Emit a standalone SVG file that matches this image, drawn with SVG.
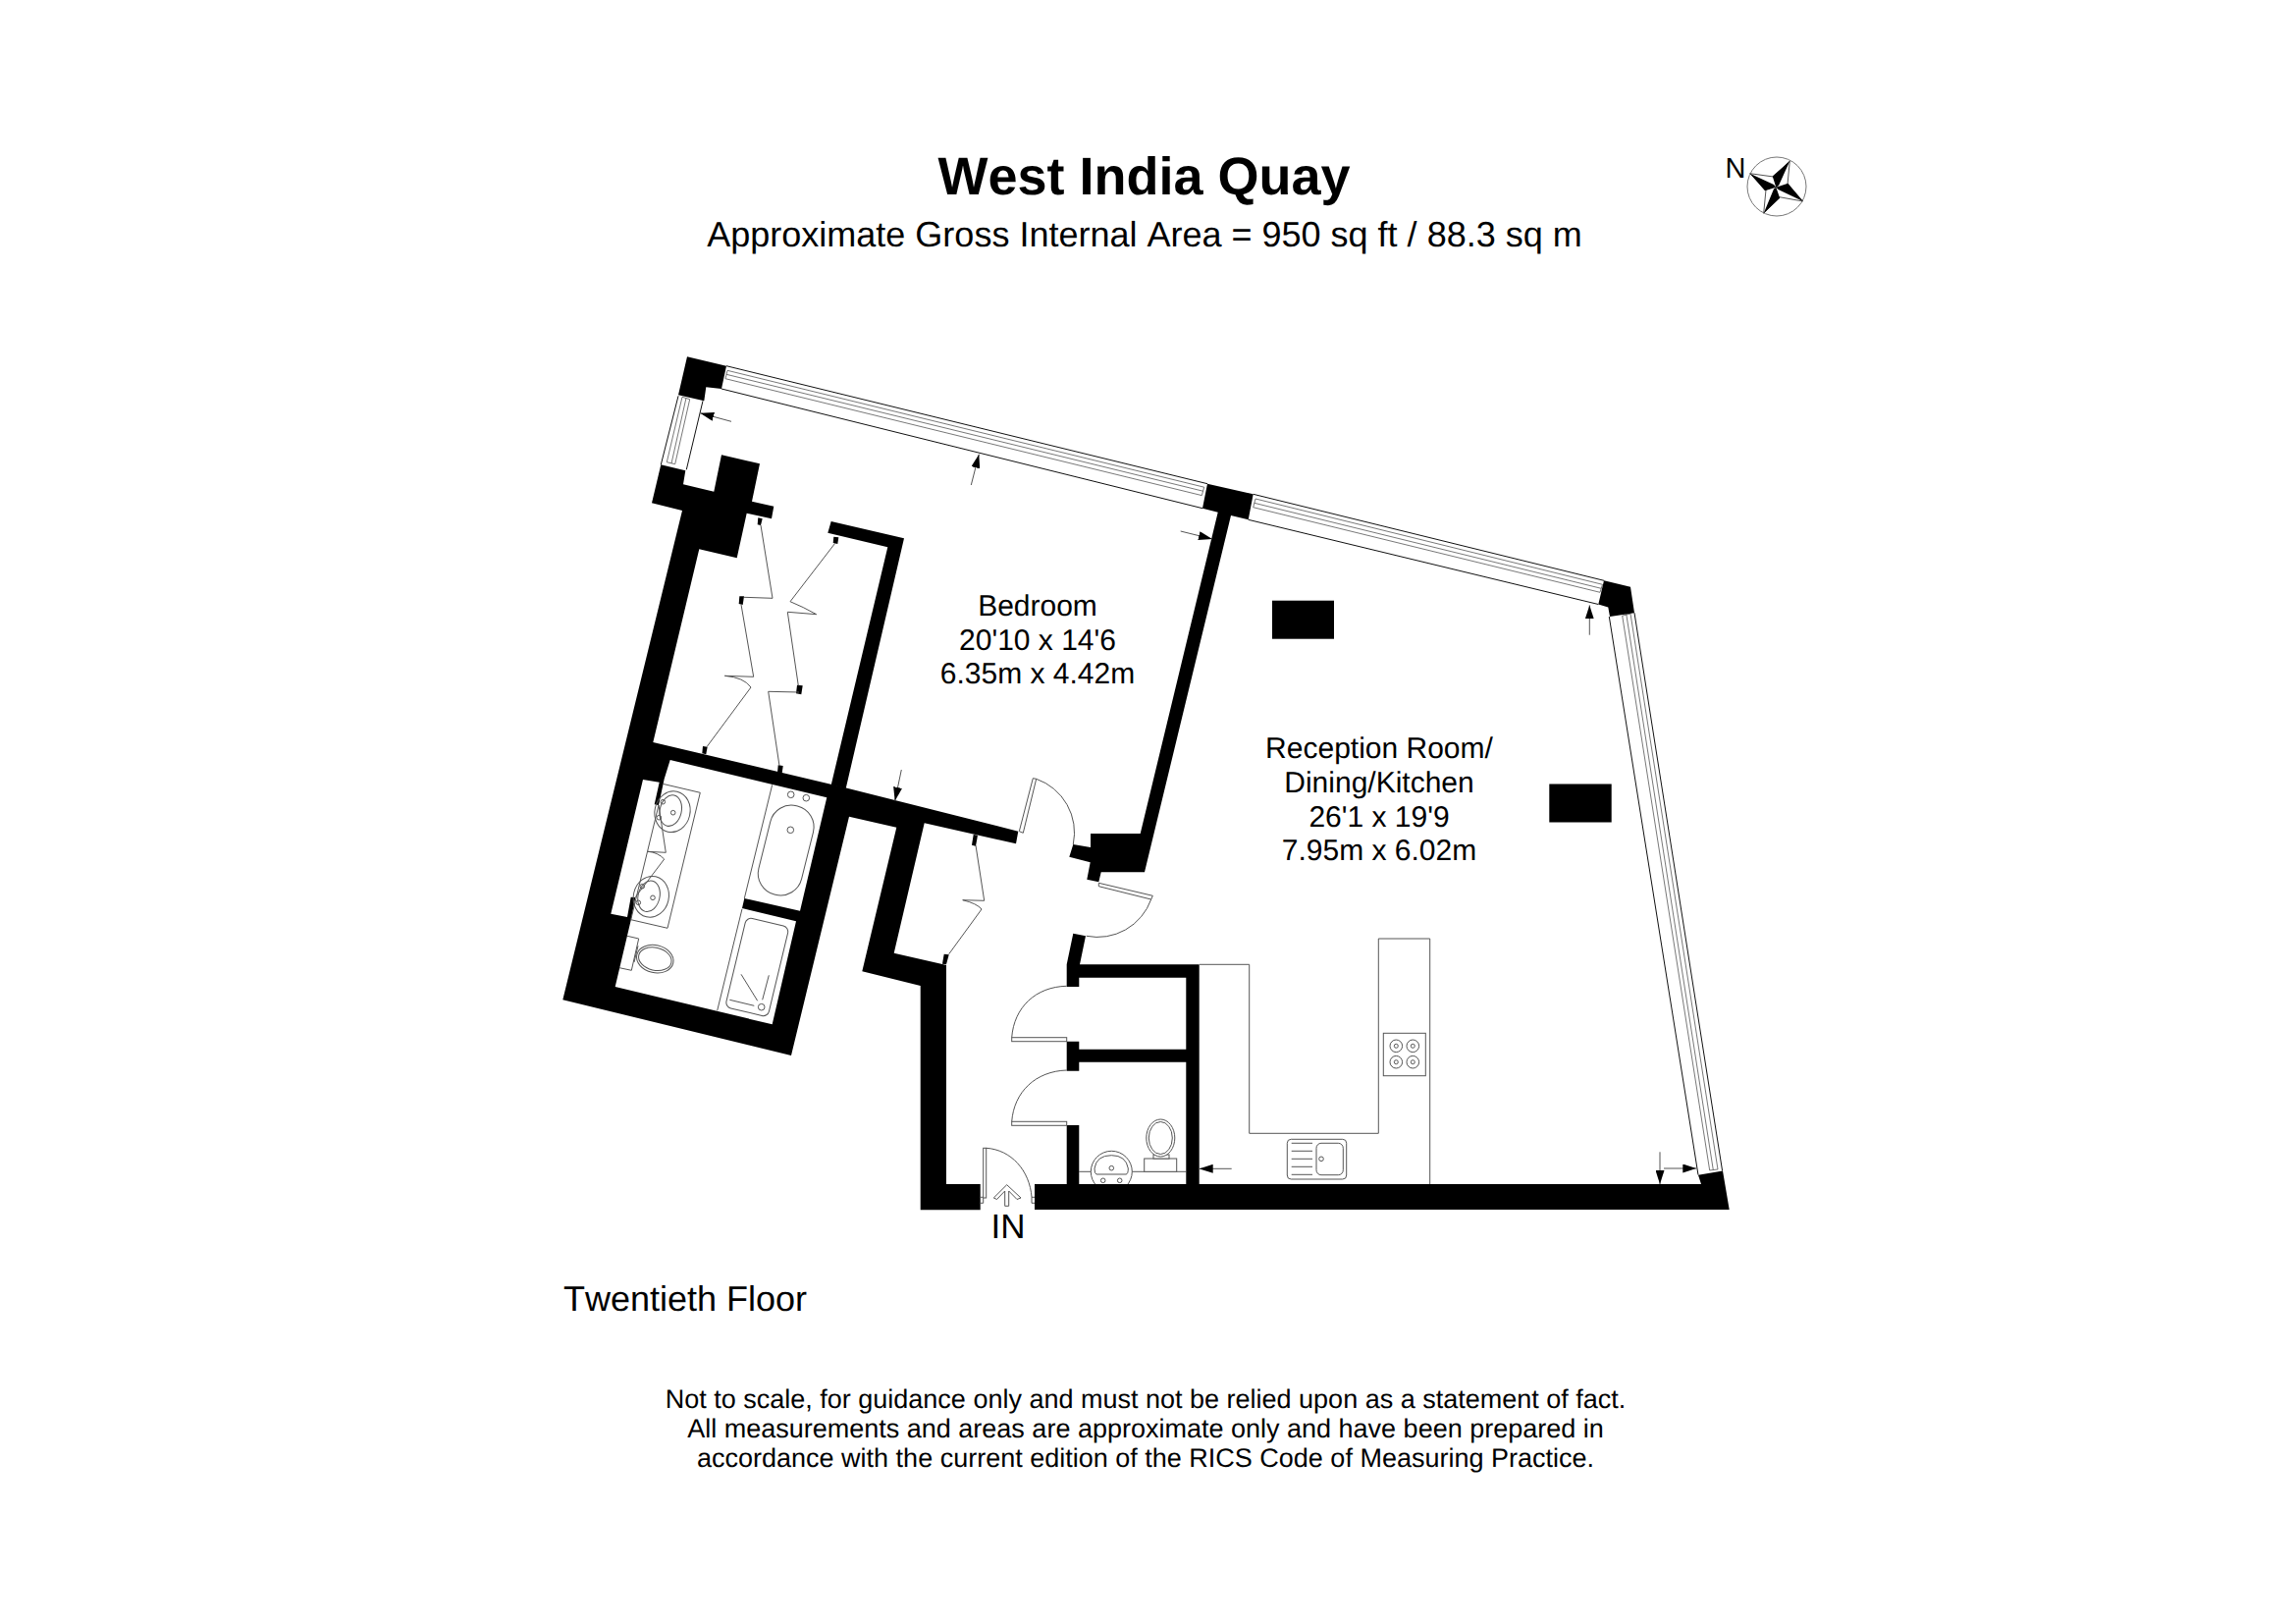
<svg xmlns="http://www.w3.org/2000/svg" width="2339" height="1653" viewBox="0 0 2339 1653">
<defs>
<style>
text{font-family:"Liberation Sans",Arial,sans-serif;fill:#000;font-kerning:none;text-rendering:geometricPrecision}
.room{font-size:30px;text-anchor:middle}
.note{font-size:27px;text-anchor:middle}
.w{fill:#000;stroke:none}
.win{fill:none;stroke:#111;stroke-width:1}
.winl{fill:none;stroke:#555;stroke-width:.8}
.ln{fill:none;stroke:#555;stroke-width:1}
.fix{fill:#fff;stroke:#555;stroke-width:1}
.dim{fill:none;stroke:#555;stroke-width:1;marker-end:url(#ah)}
</style>
<marker id="ah" markerUnits="userSpaceOnUse" markerWidth="14" markerHeight="9" refX="14" refY="4.5" orient="auto"><path d="M0,0L14,4.5L0,9Z" fill="#000"/></marker>
</defs>
<rect width="2339" height="1653" fill="#fff"/>

<g id="title">
<text x="1165.5" y="197.5" font-size="54" font-weight="700" text-anchor="middle">West India Quay</text>
<text x="1166" y="250.5" font-size="36" text-anchor="middle">Approximate Gross Internal Area = 950 sq ft / 88.3 sq m</text>
</g>

<g id="compass">
<text x="1768" y="180.5" font-size="29" text-anchor="middle">N</text>
<circle cx="1810" cy="190" r="30" fill="#fff" stroke="#777" stroke-width="1"/>
<path class="ln" d="M1823.3,164L1821,187.7L1836.7,205L1812.7,200.7L1796.7,217.3L1799,193.3L1782.7,176.7L1806.7,180Z"/>
<path class="w" d="M1823.3,164L1805.7,179.5L1809.3,190.7L1812,189ZM1836.7,205L1821.5,186.7L1809.3,190.7L1811.5,193ZM1796.7,217.3L1813.2,201.7L1809.3,190.7L1807,192.5ZM1782.7,176.7L1798,194.3L1809.3,190.7L1807,188Z"/>
</g>

<g id="windows">
<path class="win" d="M740,372.7L1230,492.7M735,396L1225,517.7"/>
<path class="winl" d="M741,377.3L1226.7,496.2M740,381.3L1225.5,500.2M739,385.7L1224.3,504.6M741,377.3L739,385.7M1226.7,496.2L1224.3,504.6"/>
<path class="win" d="M1276.7,503.3L1634,591.3M1271.7,529.3L1628.3,615.5"/>
<path class="winl" d="M1279,508L1632.5,595.3M1277.8,512.3L1631.2,599.3M1276.7,516.7L1630,603.3M1279,508L1276.7,516.7M1632.5,595.3L1630,603.3"/>
<path class="win" d="M1665,624.2L1754.6,1192.5M1639.3,628L1730,1196.6"/>
<path class="winl" d="M1661,625L1750,1191M1656.7,625L1745.3,1191.5M1652.7,627.2L1741.7,1192M1652.7,627.2L1661,625M1741.7,1192L1750,1191"/>
<path class="win" d="M691,403.3L673.3,473.3M716,408.3L699.3,478.3"/>
<path class="winl" d="M695,404.3L679.3,470.7M699,405.3L684,472M702.7,406.7L687.7,472.7M695,404.3L702.7,406.7M679.3,470.7L687.7,472.7"/>
</g>

<g id="kitchen">
<path class="ln" d="M1222,982.3H1272.7V1154.3H1404.3V956H1456.7V1206"/>
<rect class="fix" x="1409.3" y="1052.3" width="43" height="43.4"/>
<g class="ln">
<circle cx="1422.3" cy="1065.3" r="6.3"/><circle cx="1422.3" cy="1065.3" r="2"/>
<circle cx="1439.3" cy="1065.3" r="6.3"/><circle cx="1439.3" cy="1065.3" r="2"/>
<circle cx="1422.3" cy="1081.7" r="6.3"/><circle cx="1422.3" cy="1081.7" r="2"/>
<circle cx="1439.3" cy="1081.7" r="6.3"/><circle cx="1439.3" cy="1081.7" r="2"/>
</g>
<rect class="fix" x="1311.3" y="1160.3" width="60.4" height="40.7" rx="4"/>
<rect class="fix" x="1341" y="1164.3" width="27.3" height="32.4" rx="5"/>
<circle class="ln" cx="1346" cy="1180.3" r="2.3"/>
<path class="ln" d="M1315.7,1164.3H1337M1315.7,1172.3H1337M1315.7,1180.3H1337M1315.7,1188.3H1337M1315.7,1196.3H1337"/>
</g>

<g id="wc-fixtures">
<path class="ln" d="M1099.3,1193.3H1208.3"/>
<circle class="fix" cx="1132.3" cy="1193.3" r="21"/>
<path class="ln" d="M1117,1196Q1115,1196 1115,1190Q1117,1176.7 1132.3,1176.7Q1147,1176.7 1149.3,1190Q1149.3,1196 1147,1196Z"/>
<circle class="ln" cx="1132.3" cy="1189.7" r="2.3"/><circle class="ln" cx="1123.7" cy="1202.3" r="2.3"/><circle class="ln" cx="1140.7" cy="1202.3" r="2.3"/>
<rect class="fix" x="1165.7" y="1180" width="33" height="13.3"/>
<rect class="fix" x="1175" y="1176" width="16" height="4"/>
<ellipse class="fix" cx="1182.3" cy="1159" rx="14.5" ry="19"/>
<ellipse class="ln" cx="1182.3" cy="1159" rx="12" ry="16.5"/>
</g>

<g id="walls">
<path class="w" d="M700,363.3L740,372.7L735,396L719.3,394.3L717.3,408.3L691,402.3Z"/>
<path class="w" fill-rule="evenodd" d="M673.3,473.3L698.3,479.3L696,493.3L727.3,500.7L735,463.3L774,472.3L766,510.7L788.3,515.7L786,528.3L760.7,522.7L750.7,568.3L712.3,559.3L665.3,756L859,801.7L1037.3,846.7L1035,859.3L941.7,838.3L910.7,970.7L960,982L964,983L964,1206L998.7,1206L998.7,1232.3L937.7,1232.3L937.7,1004L878.3,989.3L913.3,842.7L865,831.7L806,1075L573.3,1018.3L695,520L664,512.3Z
M682.7,774L842.3,812.3L815,927.7L758.3,915L756,925L811,938.3L786.7,1043.3L626.7,1005L643,936L647.3,914L642.7,913.7L639,934L622.3,930.7L655,794L671.7,796.7L666.7,819.3L671,820L676.7,793.3Z"/>
<path class="w" d="M846.7,531L921,548.3L861.7,803L846.7,799.5L904.3,557.3L843.3,542.7Z"/>
<path class="w" d="M1230,492.7L1276.7,503.3L1271.7,529.3L1254,525L1166,888.3H1121.7L1119.3,898.3L1107.3,895.7L1110.7,878.3L1089.3,872.7L1093.3,860L1111,863V849H1161.7L1240.7,521.7L1225,517.7Z"/>
<path class="w" d="M1634,591.3L1661,597.7L1665,624.2L1640,628.1L1638.3,618.5L1628.3,615.5Z"/>
<path class="w" d="M1093.3,950.7L1106,953.3L1100,982.3H1221.7V1206H1208.3V1081.7H1099.3V1090.7H1086.7V1060.7H1099.3V1068.7H1208.3V995.7H1099.3V1005H1086.7V982.3Z"/>
<path class="w" d="M1086.7,1146H1099.3V1206H1086.7Z"/>
<path class="w" d="M1054,1206H1733L1730,1196.7L1755,1192.5L1761.7,1232H1054Z"/>
<rect class="w" x="1296" y="611.7" width="63" height="39"/>
<rect class="w" x="1578.3" y="798.5" width="63.4" height="39"/>
</g>

<g id="bath-details">
<path class="ln" d="M675,798.3L713.3,807.3L680,945.3L642.7,936.7M671,820L642.7,936.7"/>
<g transform="rotate(13 685 826.7)"><ellipse class="ln" cx="685" cy="826.7" rx="18" ry="21"/><ellipse class="ln" cx="683" cy="826" rx="11" ry="16"/></g>
<circle class="ln" cx="675.3" cy="816.7" r="2.3"/><circle class="ln" cx="671.3" cy="832.7" r="2.3"/><circle class="ln" cx="685.7" cy="827.7" r="2.3"/>
<g transform="rotate(13 663.3 913.3)"><ellipse class="ln" cx="663.3" cy="913.3" rx="18" ry="21"/><ellipse class="ln" cx="661" cy="913.3" rx="11" ry="16"/></g>
<circle class="ln" cx="654.3" cy="902.7" r="2.3"/><circle class="ln" cx="650.3" cy="919.3" r="2.3"/><circle class="ln" cx="665" cy="914.3" r="2.3"/>
<path class="ln" d="M671,820L678.3,868.3L660,867.3Q670,868 676.7,875L647.3,913.7"/>
<path class="ln" d="M786.7,799.3L758.3,915M756,925.7L730.7,1029.3"/>
<rect class="ln" x="778.2" y="819.5" width="45" height="93" rx="22" transform="rotate(14 800.7 866)"/>
<circle class="ln" cx="805.7" cy="809.3" r="3.3"/><circle class="ln" cx="821.3" cy="812.7" r="3.3"/><circle class="ln" cx="805.3" cy="845.3" r="3.3"/>
<rect class="ln" x="749" y="938" width="44.6" height="94" rx="6" transform="rotate(13.5 771.3 985)"/>
<path class="ln" d="M755,992.3L771.7,1019.3M783.3,993.3L776.7,1018.3M743.3,1018.3L768.3,1024.3"/>
<circle class="ln" cx="775.7" cy="1025.7" r="3.3"/>
<path class="ln" d="M639,953.3L650.7,956L643.3,988.3L631,985.7"/>
<path class="ln" d="M650,963.3L646,980"/>
<g transform="rotate(13 667.3 976.7)"><ellipse class="ln" cx="667.3" cy="976.7" rx="19" ry="14"/><ellipse class="ln" cx="667.3" cy="976.7" rx="17" ry="11.5"/></g>
</g>

<g id="doors">
<path class="fix" d="M1038.3,846.7L1052.3,792.7L1055.7,793.3L1042.3,848.3Z"/>
<path class="ln" d="M1055.7,793.3A58,58 0 0 1 1093.3,860"/>
<path class="fix" d="M1119.3,899.3L1174.3,912.3L1172.7,916L1119.3,902.7Z"/>
<path class="ln" d="M1172.7,916A58,58 0 0 1 1106.7,953.3"/>
<rect class="fix" x="1030.7" y="1056.7" width="56" height="4"/>
<path class="ln" d="M1030.7,1056.7C1033,1026 1055,1005 1086.7,1004.3"/>
<rect class="fix" x="1030.7" y="1142.3" width="56" height="4"/>
<path class="ln" d="M1030.7,1142.3C1033,1112 1055,1091 1086.7,1090"/>
<rect class="fix" x="1001.7" y="1169.3" width="3" height="50.7"/>
<path class="ln" d="M1004.7,1169.3C1030,1171 1049,1192 1051,1219.3"/>
<path class="ln" d="M998.7,1219.3H1001.7M998.7,1225.3H1001.7V1220M1051,1219.3H1054M1051,1225.3H1054M1051,1219.3V1225.3"/>
<path class="fix" d="M1025.7,1206.7L1040,1220L1036,1221.5L1027.7,1213V1228.3H1023.7V1213L1015.5,1221.5L1012.3,1220Z"/>
<g class="w">
<path d="M772.3,527.3L776.7,528.3L775,535L771.7,534.3Z"/><path d="M753.3,607.3L758,607.3L756.7,616L752.7,615Z"/><path d="M716,760L720.7,760.7L719.3,768.3L715.3,767.3Z"/>
<path d="M849.3,546.7L854.3,547.3L853.3,554L848.7,553Z"/><path d="M812,697.7L817.7,698.3L816.3,707.3L811,706.3Z"/><path d="M792.7,779.3L797.7,780L796.7,787.3L792,786.7Z"/>
<path d="M991.7,850L996,850.7L994,861.7L990,860.7Z"/><path d="M961.7,971.7L966.7,972.3L964,982.3L960,981.7Z"/>
</g>
<path class="ln" d="M775,535L787,609.3L758,608.3M755,615.7L767.7,689.3L738.3,688.3Q758,690 765,700L720,760.7"/>
<path class="ln" d="M850.7,553.3L805,612.7Q818,618 831.7,625.7L802.3,623.3L813.3,698.3M814,705L782.7,704.3L794,780"/>
<path class="ln" d="M994,861L1002.7,917.3L980.7,916.7Q995,920 1000,926L966.7,971.7"/>
</g>

<g id="dimension-arrows">
<line class="dim" x1="745" y1="429.3" x2="713.3" y2="420.7"/>
<line class="dim" x1="989.3" y1="494" x2="997.3" y2="462.7"/>
<line class="dim" x1="1202.7" y1="541" x2="1235" y2="549"/>
<line class="dim" x1="918.3" y1="784" x2="911.7" y2="815.7"/>
<line class="dim" x1="1619.3" y1="646.7" x2="1619.3" y2="616.4"/>
<line class="dim" x1="1254.7" y1="1190.3" x2="1221.7" y2="1190.3"/>
<line class="dim" x1="1691" y1="1173.3" x2="1691" y2="1206"/>
<line class="dim" x1="1695" y1="1190" x2="1728.3" y2="1190"/>
</g>

<g id="labels">
<text class="room" x="1057" y="626.7">Bedroom</text>
<text class="room" x="1057" y="661.7">20'10 x 14'6</text>
<text class="room" x="1057" y="696">6.35m x 4.42m</text>
<text class="room" x="1405" y="772">Reception Room/</text>
<text class="room" x="1405" y="807">Dining/Kitchen</text>
<text class="room" x="1405" y="841.7">26'1 x 19'9</text>
<text class="room" x="1405" y="876">7.95m x 6.02m</text>
<text x="1027" y="1261" font-size="35" text-anchor="middle">IN</text>
<text x="574" y="1334.5" font-size="36">Twentieth Floor</text>
<text class="note" x="1167" y="1433.5">Not to scale, for guidance only and must not be relied upon as a statement of fact.</text>
<text class="note" x="1167" y="1463.5">All measurements and areas are approximate only and have been prepared in</text>
<text class="note" x="1167" y="1494">accordance with the current edition of the RICS Code of Measuring Practice.</text>
</g>
</svg>
